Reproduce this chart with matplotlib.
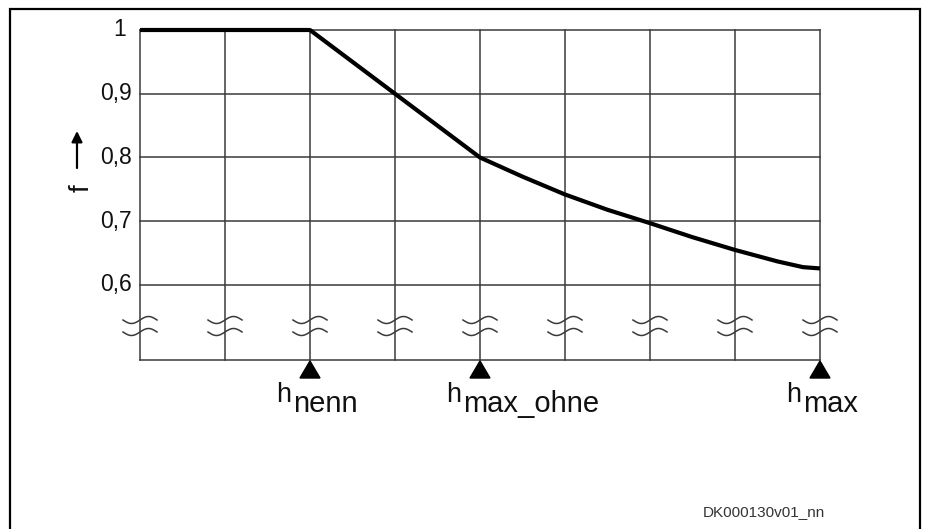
import numpy as np
import matplotlib
matplotlib.use("Agg")
import matplotlib.pyplot as plt
from matplotlib.patches import Polygon, Rectangle

plt.rcParams['font.family'] = ['Liberation Sans', 'DejaVu Sans']

# ---- data ----
h_vals = [0, 1, 2, 3, 4, 4.5, 5, 5.5, 6, 6.5, 7, 7.5, 7.8, 8]
f_vals = [1.0, 1.0, 1.0, 0.9, 0.8, 0.77, 0.742, 0.718, 0.697, 0.675, 0.655, 0.637, 0.628, 0.626]
y_ticks = [1.0, 0.9, 0.8, 0.7, 0.6]
y_labels = ["1", "0,9", "0,8", "0,7", "0,6"]
marker_pos = [2, 4, 8]
marker_sub = ["nenn", "max_ohne", "max"]
x_grid = list(range(0, 9))

W, H = 931, 529
fig = plt.figure(figsize=(W / 100, H / 100), dpi=100)

L, R, T, B = 140, 820, 30, 360
ax = fig.add_axes([L / W, 1 - B / H, (R - L) / W, (B - T) / H])
ymin = 0.6 - (B - 285) / 637.5
ax.set_xlim(0, 8)
ax.set_ylim(ymin, 1.0)
ax.axis('off')

gc = '#3a3a3a'
glw = 1.1
for x in x_grid:
    ax.plot([x, x], [ymin, 1.0], color=gc, lw=glw, clip_on=False, zorder=1)
for y in y_ticks:
    ax.plot([0, 8], [y, y], color=gc, lw=glw, clip_on=False, zorder=1)
ax.plot([0, 8], [ymin, ymin], color=gc, lw=glw, clip_on=False, zorder=1)

ax.plot(h_vals, f_vals, color='black', lw=3.0, clip_on=False, zorder=3,
        solid_capstyle='butt', solid_joinstyle='round')

# break symbols (tildes)
xpp = 8 / (R - L)
ypp = (1.0 - ymin) / (B - T)
t = np.linspace(-1, 1, 40)
for x in x_grid:
    for ypix in (320, 332):
        yc = 1.0 - (ypix - T) * ypp
        xs = x + t * 17 * xpp
        ys = yc + 3.5 * np.sin(np.pi * t) * ypp
        ax.plot(xs, ys, color=gc, lw=1.1, clip_on=False, zorder=2)

# y tick labels
for y, lab in zip(y_ticks, y_labels):
    ax.annotate(lab, xy=(0, y), xytext=(-8 if lab != "1" else -14, 0),
                textcoords='offset pixels', ha='right', va='center',
                fontsize=16.5, color='#111111')

# triangles and labels
for xm, sub in zip(marker_pos, marker_sub):
    px = L + xm * (R - L) / 8
    tri = Polygon([[px / W, 1 - 361 / H], [(px - 10) / W, 1 - 378 / H],
                   [(px + 10) / W, 1 - 378 / H]], closed=True,
                  transform=fig.transFigure, color='black', zorder=5)
    fig.patches.append(tri)
    fig.text((px - 34) / W, 1 - 402 / H, "h", fontsize=19.5, ha='left',
             va='baseline', color='#111111')
    fig.text((px - 17) / W, 1 - 412 / H, sub, fontsize=21, ha='left',
             va='baseline', color='#111111')

# f label with arrow
fig.text(82 / W, 1 - 188 / H, "f", rotation=90, fontsize=20, ha='center',
         va='center', color='#111111')
ax_arrow = fig.add_axes([0, 0, 1, 1], zorder=-1)
ax_arrow.axis('off')
ax_arrow.set_xlim(0, W)
ax_arrow.set_ylim(H, 0)
ax_arrow.annotate("", xy=(77, 131), xytext=(77, 168),
                  arrowprops=dict(arrowstyle='-|>', color='black', lw=1.6,
                                  mutation_scale=16, shrinkA=0, shrinkB=0))

# outer frame
fig.patches.append(Rectangle((10 / W, -0.02), 910 / W, 1 - 9 / H + 0.02,
                             transform=fig.transFigure, fill=False,
                             edgecolor='black', lw=1.6))

fig.text(703 / W, 1 - 516 / H, "DK000130v01_nn", fontsize=11, ha='left',
         va='baseline', color='#333333')

fig.savefig("out.png", dpi=100)
